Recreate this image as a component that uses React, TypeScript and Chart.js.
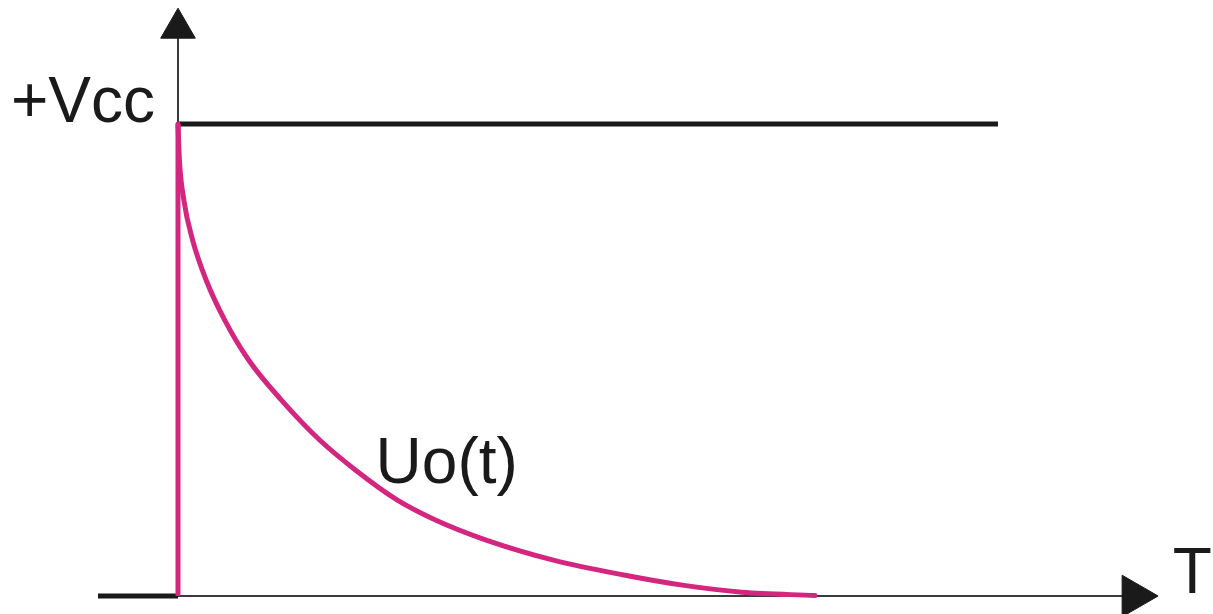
import React, { useEffect, useRef } from "react";
import { Chart, registerables } from "chart.js";

Chart.register(...registerables);

// Decay curve Uo(t), time in arbitrary units, voltage relative to Vcc
const curveT = [0, 0.017, 0.071, 0.178, 0.344, 0.568, 0.861, 1.261, 1.724, 2.163, 2.676, 3.139, 3.749, 4.578, 5.42, 6.151, 6.877, 7.768];
const curveU = [1, 0.924, 0.839, 0.754, 0.669, 0.585, 0.5, 0.415, 0.331, 0.267, 0.203, 0.161, 0.119, 0.076, 0.045, 0.023, 0.008, 0.001];

// Reference level and axis extents
const vccLevel = 1;
const vccLineEnd = 10;
const xAxisStart = -0.976;
const xAxisEnd = 11.6;
const xArrowT = 11.66;
const yAxisEnd = 1.2;
const yArrowU = 1.203;

// Labels
const vccLabel = "+Vcc";
const curveLabel = "Uo(t)";
const curveLabelT = 2.41;
const curveLabelU = 0.24;
const timeLabel = "T";
const timeLabelT = 12.13;

const MAGENTA = "#d4267f";
const BLACK = "#1a1a1a";
const GREY = "#3a3a3a";
const FONT = '64px "Liberation Sans", Arial, Helvetica, sans-serif';

const labelsPlugin = {
  id: "labels",
  afterDraw(chart: any) {
    const { ctx, scales } = chart;
    const xs = scales.x;
    const ys = scales.y;
    ctx.save();
    ctx.font = FONT;
    ctx.fillStyle = BLACK;
    ctx.textBaseline = "alphabetic";
    ctx.textAlign = "right";
    ctx.fillText(vccLabel, xs.getPixelForValue(0) - 23, ys.getPixelForValue(vccLevel) - 2);
    ctx.textAlign = "left";
    ctx.fillText(curveLabel, xs.getPixelForValue(curveLabelT), ys.getPixelForValue(curveLabelU));
    ctx.fillText(timeLabel, xs.getPixelForValue(timeLabelT), ys.getPixelForValue(0) - 3);
    ctx.restore();
  },
};

export default function App() {
  const ref = useRef<HTMLCanvasElement | null>(null);
  useEffect(() => {
    if (!ref.current) return;
    const line = (data: any[], color: string, width: number, extra: any = {}) => ({
      data,
      showLine: true,
      borderColor: color,
      backgroundColor: color,
      borderWidth: width,
      pointRadius: 0,
      clip: false,
      ...extra,
    });
    const chart = new Chart(ref.current, {
      type: "scatter",
      data: {
        datasets: [
          line(curveT.map((t, i) => ({ x: t, y: curveU[i] })), MAGENTA, 5, {
            cubicInterpolationMode: "monotone",
            borderCapStyle: "round",
            borderJoinStyle: "round",
          }),
          line([{ x: 0, y: 0 }, { x: 0, y: vccLevel }], MAGENTA, 5),
          {
            data: [{ x: 0, y: yArrowU }, { x: xArrowT, y: 0 }],
            showLine: false,
            pointStyle: "triangle",
            pointRadius: [20, 24],
            rotation: [0, 90],
            backgroundColor: BLACK,
            borderColor: BLACK,
            borderWidth: 1,
            clip: false,
          },
          line([{ x: 0, y: vccLevel }, { x: vccLineEnd, y: vccLevel }], BLACK, 5),
          line([{ x: xAxisStart, y: 0 }, { x: 0, y: 0 }], BLACK, 5),
          line([{ x: 0, y: 0 }, { x: xAxisEnd, y: 0 }], GREY, 2),
          line([{ x: 0, y: 0 }, { x: 0, y: yAxisEnd }], GREY, 2),
        ],
      },
      options: {
        animation: false,
        responsive: true,
        maintainAspectRatio: false,
        layout: { padding: 0, autoPadding: false },
        plugins: { legend: { display: false }, tooltip: { enabled: false } },
        scales: {
          x: { type: "linear", display: false, min: -178 / 82, max: (1213 - 178) / 82 },
          y: { type: "linear", display: false, min: (596 - 614) / 472, max: 596 / 472 },
        },
      },
      plugins: [labelsPlugin],
    } as any);
    return () => chart.destroy();
  }, []);
  return (
    <div style={{ position: "absolute", left: 0, top: 0, width: 1213, height: 614, background: "#fff" }}>
      <canvas ref={ref} />
    </div>
  );
}
